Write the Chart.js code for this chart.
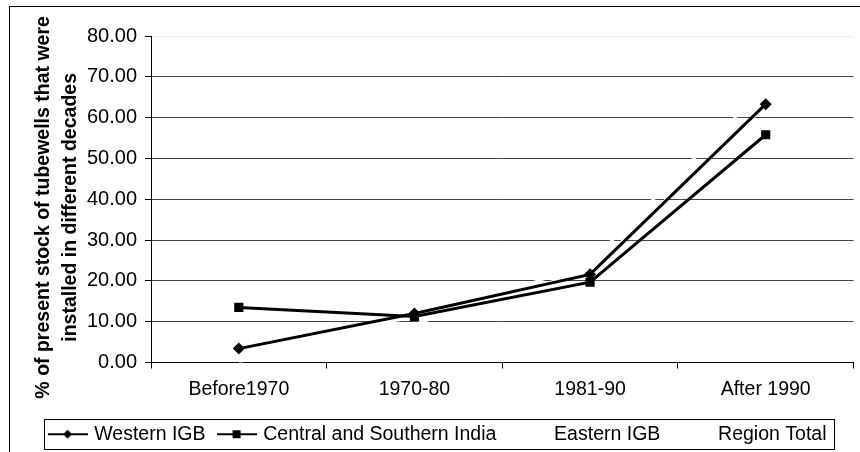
<!DOCTYPE html>
<html>
<head>
<meta charset="utf-8">
<script src="https://cdn.jsdelivr.net/npm/chart.js@4"></script>
<style>
  html, body { margin: 0; padding: 0; background: #fff; }
  #wrap { width: 860px; height: 452px; position: relative; }
</style>
</head>
<body>
<div id="wrap"><canvas id="chart"></canvas></div>
<script>
const categories = ['Before1970', '1970-80', '1981-90', 'After 1990']
const westernIGB = [3.4, 12.0, 21.6, 63.3]
const centralSouthernIndia = [13.5, 11.3, 19.7, 55.8]
const easternIGB = [0.2, 9.3, 24.5, 67.5]
const regionTotal = [4.5, 11.0, 22.2, 63.0]
const yTicks = [0, 10, 20, 30, 40, 50, 60, 70, 80]

const FONT = 'Liberation Sans, Arial, sans-serif'

// little legend swatch: line with marker in the middle
function swatch(style, color) {
    const c = document.createElement('canvas')
    c.width = 40
    c.height = 12
    const g = c.getContext('2d')
    g.strokeStyle = color
    g.fillStyle = color
    g.lineWidth = 2
    g.beginPath()
    g.moveTo(0, 6)
    g.lineTo(40, 6)
    g.stroke()
    if (style === 'diamond') {
        g.beginPath()
        g.moveTo(20, 1.5); g.lineTo(24.5, 6); g.lineTo(20, 10.5); g.lineTo(15.5, 6)
        g.closePath()
        g.fill()
    } else if (style === 'square') {
        g.fillRect(16, 2, 8, 8)
    }
    return c
}

const swatches = [swatch('diamond', '#000'), swatch('square', '#000'), swatch('none', '#fff'), swatch('none', '#fff')]

const framePlugin = {
    id: 'frame',
    afterDraw(chart) {
        const ctx = chart.ctx
        ctx.save()
        ctx.strokeStyle = '#000'
        ctx.lineWidth = 1
        ctx.strokeRect(9.5, 6.5, 900, 500)
        const boxes = chart.legend.legendHitBoxes
        if (boxes && boxes.length) {
            let l = Infinity, r = -Infinity, t = Infinity, b = -Infinity
            boxes.forEach(h => {
                l = Math.min(l, h.left); r = Math.max(r, h.left + h.width)
                t = Math.min(t, h.top); b = Math.max(b, h.top + h.height)
            })
            ctx.strokeRect(Math.round(l) - 6.5, Math.round(t) - 5.5, Math.round(r - l) + 14, Math.round(b - t) + 10)
        }
        ctx.restore()
    }
}

const pad = '\u00a0\u00a0\u00a0'

new Chart(document.getElementById('chart'), {
    type: 'line',
    data: {
        labels: categories,
        datasets: [
            {
                label: 'Western IGB',
                data: westernIGB,
                borderColor: '#000',
                backgroundColor: '#000',
                borderWidth: 3,
                pointStyle: 'rectRot',
                pointRadius: 6,
                pointBorderWidth: 0
            },
            {
                label: 'Central and Southern India',
                data: centralSouthernIndia,
                borderColor: '#000',
                backgroundColor: '#000',
                borderWidth: 3,
                pointStyle: 'rect',
                pointRadius: 6.5,
                pointBorderWidth: 0
            },
            {
                label: 'Eastern IGB',
                data: easternIGB,
                borderColor: '#fff',
                backgroundColor: '#fff',
                borderWidth: 3,
                pointRadius: 0
            },
            {
                label: 'Region Total',
                data: regionTotal,
                borderColor: '#fff',
                backgroundColor: '#fff',
                borderWidth: 3,
                pointStyle: 'crossRot',
                pointRadius: 4,
                pointBorderWidth: 1.5
            }
        ]
    },
    options: {
        responsive: true,
        maintainAspectRatio: false,
        animation: false,
        layout: { padding: { top: 36, right: 1, bottom: -2, left: 18 } },
        elements: { line: { tension: 0 } },
        plugins: {
            tooltip: { enabled: false },
            legend: {
                position: 'bottom',
                labels: {
                    color: '#000',
                    font: { family: FONT, size: 19.5 },
                    usePointStyle: true,
                    pointStyleWidth: 34,
                    padding: 14,
                    generateLabels(chart) {
                        return chart.data.datasets.map((ds, i) => ({
                            text: ds.label,
                            pointStyle: swatches[i],
                            fillStyle: '#fff',
                            strokeStyle: '#fff',
                            lineWidth: 0,
                            hidden: false,
                            datasetIndex: i,
                            fontColor: '#000'
                        }))
                    }
                }
            }
        },
        scales: {
            x: {
                offset: true,
                grid: {
                    offset: true,
                    drawOnChartArea: false,
                    tickLength: 6,
                    color: '#000'
                },
                border: { color: '#000', width: 1 },
                ticks: {
                    color: '#000',
                    font: { family: FONT, size: 19.5 },
                    padding: 9,
                    maxRotation: 0
                },
                afterFit(scale) { scale.height = 48 }
            },
            y: {
                min: 0,
                max: 80,
                afterBuildTicks(scale) { scale.ticks = yTicks.map(v => ({ value: v })) },
                grid: {
                    color: ctx => (ctx.tick && ctx.tick.value === 80 ? '#eeeeee' : '#444'),
                    tickColor: '#000',
                    tickLength: 6
                },
                border: { color: '#000', width: 1 },
                ticks: {
                    color: '#000',
                    font: { family: FONT, size: 20 },
                    padding: 8,
                    callback: v => Number(v).toFixed(2)
                },
                title: {
                    display: true,
                    text: ['% of present stock of tubewells that were' + pad, 'installed in different decades' + pad],
                    color: '#000',
                    font: { family: FONT, size: 19.5, weight: 'bold', lineHeight: 1.4 },
                    padding: { top: 12, bottom: 0 }
                },
                afterFit(scale) { scale.width = 133 }
            }
        }
    },
    plugins: [framePlugin]
})
</script>
</body>
</html>
